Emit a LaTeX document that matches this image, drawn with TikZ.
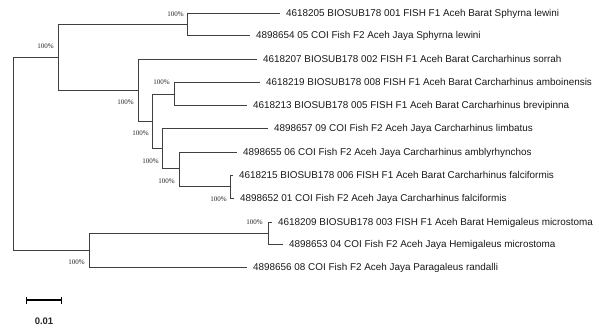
\documentclass[tikz,border=0pt]{standalone}
\usepackage{fontspec}
\setmainfont{Liberation Sans}
\newfontfamily\bootfont{Liberation Serif}
\usepackage{tikz}
\usetikzlibrary{arrows.meta, positioning}

\begin{document}
\begin{tikzpicture}[x=1pt, y=-1pt,
  branch/.style={draw=black!75, line width=0.8pt},
  leaf/.style={anchor=west, inner xsep=6pt, inner ysep=0pt, text height=7pt,
               text depth=0pt, font=\fontsize{9.9}{11}\selectfont, text=black!90},
  boot/.style={anchor=east, inner sep=0pt, font=\bootfont\fontsize{7}{8}\selectfont,
               text=black!85},
  scalebar/.style={{Bar[width=7pt]}-{Bar[width=7pt]}, line width=1.2pt, black},
]
\useasboundingbox (0,0) rectangle (599,329);

% internal nodes
\coordinate (root) at (13, 153);
\coordinate (A) at (58, 57);
\coordinate (S) at (187, 24);
\coordinate (C) at (138, 90);
\coordinate (D) at (152, 121);
\coordinate (E) at (174, 94);
\coordinate (F) at (162, 148);
\coordinate (G) at (179, 168);
\coordinate (H) at (230, 186);
\coordinate (P) at (89, 250);
\coordinate (M) at (268, 233);

% leaves
\node[leaf] (lewB)  at (280, 13)  {4618205 BIOSUB178 001 FISH F1 Aceh Barat Sphyrna lewini};
\node[leaf] (lewJ)  at (250, 35)  {4898654 05 COI Fish F2 Aceh Jaya Sphyrna lewini};
\node[leaf] (sor)   at (257, 59)  {4618207 BIOSUB178 002 FISH F1 Aceh Barat Carcharhinus sorrah};
\node[leaf] (amb)   at (260, 82)  {4618219 BIOSUB178 008 FISH F1 Aceh Barat Carcharhinus amboinensis};
\node[leaf] (bre)   at (247, 105) {4618213 BIOSUB178 005 FISH F1 Aceh Barat Carcharhinus brevipinna};
\node[leaf] (lim)   at (268, 128) {4898657 09 COI Fish F2 Aceh Jaya Carcharhinus limbatus};
\node[leaf] (aml)   at (237, 152) {4898655 06 COI Fish F2 Aceh Jaya Carcharhinus amblyrhynchos};
\node[leaf] (falB)  at (233, 175) {4618215 BIOSUB178 006 FISH F1 Aceh Barat Carcharhinus falciformis};
\node[leaf] (falJ)  at (234, 198) {4898652 01 COI Fish F2 Aceh Jaya Carcharhinus falciformis};
\node[leaf] (hemB)  at (272, 222) {4618209 BIOSUB178 003 FISH F1 Aceh Barat Hemigaleus microstoma};
\node[leaf] (hemJ)  at (283, 244) {4898653 04 COI Fish F2 Aceh Jaya Hemigaleus microstoma};
\node[leaf] (ran)   at (247, 267) {4898656 08 COI Fish F2 Aceh Jaya Paragaleus randalli};

% branches
\draw[branch] (root) |- (A);
\draw[branch] (root) |- (P);
\draw[branch] (A) |- (S);
\draw[branch] (A) |- (C);
\draw[branch] (S) |- (lewB.west);
\draw[branch] (S) |- (lewJ.west);
\draw[branch] (C) |- (sor.west);
\draw[branch] (C) |- (D);
\draw[branch] (D) |- (E);
\draw[branch] (D) |- (F);
\draw[branch] (E) |- (amb.west);
\draw[branch] (E) |- (bre.west);
\draw[branch] (F) |- (lim.west);
\draw[branch] (F) |- (G);
\draw[branch] (G) |- (aml.west);
\draw[branch] (G) |- (H);
\draw[branch] (H) |- (falB.west);
\draw[branch] (H) |- (falJ.west);
\draw[branch] (P) |- (M);
\draw[branch] (P) |- (ran.west);
\draw[branch] (M) |- (hemB.west);
\draw[branch] (M) |- (hemJ.west);

% bootstrap values
\node[boot] (bA) at (54, 46)  {100\%};
\node[boot] (bS) at (184, 14) {100\%};
\node[boot] (bC) at (134, 102) {100\%};
\node[boot] (bE) at (170, 82) {100\%};
\node[boot] (bD) at (149, 133) {100\%};
\node[boot] (bF) at (159, 161) {100\%};
\node[boot] (bG) at (175, 181) {100\%};
\node[boot] (bH) at (227, 199) {100\%};
\node[boot] (bM) at (263, 222) {100\%};
\node[boot] (bP) at (85, 262) {100\%};

% scale bar
\coordinate (sbL) at (26, 300);
\coordinate (sbR) at (62, 300);
\draw[scalebar] (sbL) -- (sbR);
\node[font=\bfseries\fontsize{9.5}{10}\selectfont, text=black!85] (sbT) at (44, 321) {0.01};
\end{tikzpicture}
\end{document}
